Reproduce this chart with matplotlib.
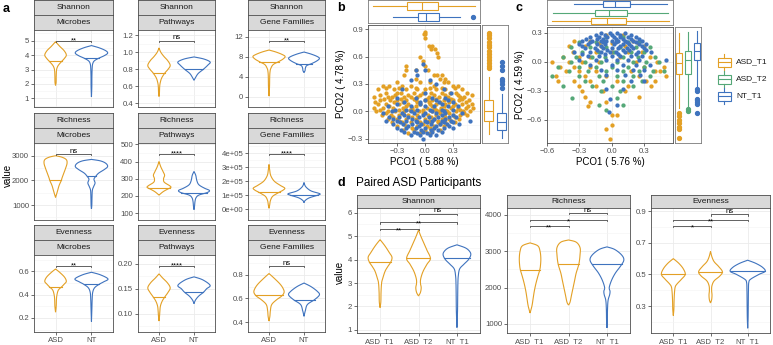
import numpy as np
import matplotlib
matplotlib.use("Agg")
import matplotlib.pyplot as plt
from matplotlib.ticker import AutoMinorLocator, FixedLocator

plt.rcParams['font.family'] = ['Liberation Sans', 'DejaVu Sans']

ORANGE, BLUE, GREEN = "#E3A025", "#3F73BE", "#55A878"
W, H = 773, 345

# ---------------- panel a : violins (y knots top->bottom, half widths) ----------------
a_metrics = ["Shannon", "Richness", "Evenness"]
a_sets = ["Microbes", "Pathways", "Gene Families"]
a_groups = ["ASD", "NT"]

a_shan_mic_asd = ([4.93, 4.6, 4.3, 4.0, 3.75, 3.56, 3.3, 3.1, 2.9, 2.5, 2.1, 1.9],
                  [0, 0.12, 0.24, 0.3, 0.24, 0.17, 0.08, 0.04, 0.025, 0.018, 0.015, 0])
a_shan_mic_nt = ([4.66, 4.5, 4.3, 4.13, 3.95, 3.78, 3.6, 3.4, 3.1, 2.5, 1.8, 1.1],
                 [0, 0.22, 0.4, 0.45, 0.35, 0.2, 0.08, 0.035, 0.02, 0.012, 0.01, 0])
a_shan_pw_asd = ([1.05, 1.0, 0.95, 0.9, 0.845, 0.8, 0.757, 0.7, 0.65, 0.6, 0.52, 0.48],
                 [0, 0.05, 0.14, 0.25, 0.32, 0.26, 0.17, 0.08, 0.04, 0.02, 0.012, 0])
a_shan_pw_nt = ([0.944, 0.92, 0.885, 0.85, 0.8, 0.75, 0.7, 0.67],
                [0, 0.28, 0.46, 0.4, 0.27, 0.12, 0.04, 0])
a_shan_gf_asd = ([9.3, 8.9, 8.4, 8.0, 7.5, 7.0, 6.4, 5.6, 5.0, 4.0, 2.0, 0.1],
                 [0, 0.2, 0.38, 0.46, 0.4, 0.28, 0.12, 0.05, 0.03, 0.02, 0.015, 0])
a_shan_gf_nt = ([8.9, 8.5, 8.0, 7.6, 7.1, 6.6, 6.2, 5.7, 5.2, 4.8],
                [0, 0.2, 0.38, 0.44, 0.36, 0.22, 0.08, 0.04, 0.03, 0])
a_rich_mic_asd = ([3010, 2950, 2850, 2700, 2500, 2300, 2100, 2000, 1800, 1600, 1450, 1310],
                  [0, 0.18, 0.3, 0.32, 0.28, 0.23, 0.18, 0.16, 0.1, 0.06, 0.03, 0])
a_rich_mic_nt = ([2860, 2800, 2700, 2570, 2450, 2300, 2170, 2050, 1900, 1750, 1600, 1300, 1000, 840],
                 [0, 0.25, 0.4, 0.45, 0.36, 0.2, 0.12, 0.07, 0.1, 0.06, 0.025, 0.015, 0.01, 0])
a_rich_pw_asd = ([400, 370, 340, 320, 300, 280, 260, 250, 240, 225, 205],
                 [0, 0.05, 0.12, 0.16, 0.13, 0.15, 0.3, 0.34, 0.25, 0.12, 0])
a_rich_pw_nt = ([342, 320, 290, 265, 245, 232, 220, 205, 190, 170, 140, 120],
                [0, 0.05, 0.08, 0.14, 0.3, 0.44, 0.38, 0.14, 0.06, 0.03, 0.015, 0])
a_rich_gf_asd = ([3.2e5, 2.8e5, 2.4e5, 2.0e5, 1.7e5, 1.5e5, 1.35e5, 1.24e5, 1.1e5, 0.9e5, 0.6e5, 0.3e5, 0.05e5],
                 [0, 0.02, 0.05, 0.15, 0.32, 0.45, 0.4, 0.32, 0.22, 0.1, 0.04, 0.02, 0])
a_rich_gf_nt = ([1.9e5, 1.6e5, 1.3e5, 1.1e5, 1.0e5, 0.8e5, 0.6e5, 0.45e5],
                [0, 0.05, 0.2, 0.45, 0.4, 0.15, 0.03, 0])
a_even_mic_asd = ([0.62, 0.59, 0.55, 0.514, 0.49, 0.467, 0.44, 0.4, 0.36, 0.3, 0.25],
                  [0, 0.12, 0.25, 0.3, 0.24, 0.17, 0.08, 0.04, 0.025, 0.018, 0])
a_even_mic_nt = ([0.592, 0.57, 0.535, 0.51, 0.49, 0.46, 0.42, 0.36, 0.28, 0.17],
                 [0, 0.25, 0.46, 0.34, 0.22, 0.09, 0.035, 0.02, 0.012, 0])
a_even_pw_asd = ([0.18, 0.172, 0.162, 0.152, 0.143, 0.134, 0.125, 0.115, 0.105, 0.095, 0.085],
                 [0, 0.1, 0.24, 0.32, 0.26, 0.17, 0.09, 0.04, 0.025, 0.015, 0])
a_even_pw_nt = ([0.174, 0.168, 0.157, 0.15, 0.143, 0.135, 0.127, 0.12],
                [0, 0.25, 0.46, 0.36, 0.27, 0.13, 0.04, 0])
a_even_gf_asd = ([0.81, 0.77, 0.72, 0.68, 0.65, 0.62, 0.59, 0.55, 0.5, 0.45, 0.41],
                 [0, 0.15, 0.32, 0.41, 0.43, 0.36, 0.22, 0.08, 0.04, 0.025, 0])
a_even_gf_nt = ([0.73, 0.7, 0.66, 0.63, 0.59, 0.55, 0.5, 0.45],
                [0, 0.2, 0.38, 0.44, 0.3, 0.1, 0.04, 0])

a_violins = [[(a_shan_mic_asd, a_shan_mic_nt), (a_shan_pw_asd, a_shan_pw_nt), (a_shan_gf_asd, a_shan_gf_nt)],
             [(a_rich_mic_asd, a_rich_mic_nt), (a_rich_pw_asd, a_rich_pw_nt), (a_rich_gf_asd, a_rich_gf_nt)],
             [(a_even_mic_asd, a_even_mic_nt), (a_even_pw_asd, a_even_pw_nt), (a_even_gf_asd, a_even_gf_nt)]]
a_medians = [[(3.56, 3.78), (0.757, 0.797), (7.0, 6.6)],
             [(2000, 2170), (245, 220), (1.24e5, 1.0e5)],
             [(0.467, 0.49), (0.134, 0.143), (0.63, 0.59)]]
a_sig_y = [[5.0, 1.13, 11.1], [3070, 442, 3.93e5], [0.648, 0.196, 0.87]]
a_sig_lab = [["**", "ns", "**"], ["ns", "****", "****"], ["**", "****", "ns"]]
a_ylim = [[(0.40, 5.74), (0.357, 1.26), (-2.07, 13.3)],
          [(388, 3530), (60, 508), (-0.79e5, 4.74e5)],
          [(0.08, 0.74), (0.063, 0.218), (0.318, 0.966)]]
a_yticks = [[[1, 2, 3, 4, 5], [0.4, 0.6, 0.8, 1.0, 1.2], [0, 4, 8, 12]],
            [[1000, 2000, 3000], [100, 200, 300, 400, 500], [0, 1e5, 2e5, 3e5, 4e5]],
            [[0.2, 0.4, 0.6], [0.10, 0.15, 0.20], [0.4, 0.6, 0.8]]]
a_ytlab = [[["1", "2", "3", "4", "5"], ["0.4", "0.6", "0.8", "1.0", "1.2"], ["0", "4", "8", "12"]],
           [["1000", "2000", "3000"], ["100", "200", "300", "400", "500"],
            ["0e+00", "1e+05", "2e+05", "3e+05", "4e+05"]],
           [["0.2", "0.4", "0.6"], ["0.10", "0.15", "0.20"], ["0.4", "0.6", "0.8"]]]

# ---------------- panel d : paired ASD violins ----------------
d_metrics = ["Shannon", "Richness", "Evenness"]
d_groups = ["ASD_T1", "ASD_T2", "NT_T1"]
d_shan = [([4.85, 4.6, 4.3, 4.1, 3.9, 3.7, 3.5, 3.2, 3.0, 2.6, 2.2, 1.95],
           [0, 0.12, 0.24, 0.31, 0.28, 0.2, 0.13, 0.07, 0.04, 0.025, 0.02, 0]),
          ([5.26, 5.0, 4.7, 4.4, 4.05, 3.8, 3.5, 3.2, 3.0, 2.8, 2.6, 2.45],
           [0, 0.06, 0.14, 0.22, 0.31, 0.22, 0.12, 0.06, 0.05, 0.07, 0.05, 0]),
          ([4.63, 4.5, 4.35, 4.2, 4.0, 3.8, 3.6, 3.3, 3.0, 2.5, 1.8, 1.1],
           [0, 0.22, 0.33, 0.36, 0.3, 0.18, 0.07, 0.035, 0.025, 0.02, 0.015, 0])]
d_rich = [([3230, 3150, 3000, 2800, 2600, 2480, 2300, 2100, 1900, 1700, 1500, 1300],
           [0, 0.2, 0.26, 0.28, 0.27, 0.25, 0.2, 0.15, 0.11, 0.08, 0.05, 0]),
          ([3310, 3250, 3100, 2900, 2650, 2400, 2200, 2000, 1800, 1600, 1520],
           [0, 0.2, 0.3, 0.3, 0.27, 0.2, 0.16, 0.12, 0.08, 0.04, 0]),
          ([3120, 3050, 2900, 2760, 2600, 2400, 2200, 2000, 1900, 1800, 1650, 1400, 1100, 890],
           [0, 0.2, 0.38, 0.44, 0.36, 0.22, 0.12, 0.06, 0.08, 0.07, 0.03, 0.015, 0.01, 0])]
d_even = [([0.6, 0.57, 0.535, 0.5, 0.47, 0.44, 0.42, 0.38, 0.33, 0.28, 0.24],
           [0, 0.15, 0.27, 0.32, 0.22, 0.1, 0.05, 0.03, 0.02, 0.015, 0]),
          ([0.645, 0.61, 0.58, 0.55, 0.517, 0.49, 0.46, 0.43, 0.4, 0.37, 0.34, 0.32],
           [0, 0.04, 0.1, 0.22, 0.32, 0.25, 0.1, 0.04, 0.03, 0.04, 0.03, 0]),
          ([0.59, 0.57, 0.545, 0.52, 0.5, 0.47, 0.45, 0.4, 0.3, 0.22, 0.16],
           [0, 0.22, 0.4, 0.47, 0.3, 0.08, 0.03, 0.02, 0.015, 0.01, 0])]
d_medians = [[3.9, 4.05, 4.08], [2480, 2650, 2650], [0.5, 0.517, 0.52]]
d_sig = [[(1, 2, 5.32, "**"), (1, 3, 5.6, "**"), (2, 3, 5.95, "ns")],
         [(1, 2, 3700, "**"), (1, 3, 3860, "*"), (2, 3, 4055, "ns")],
         [(1, 2, 0.807, "*"), (1, 3, 0.845, "**"), (2, 3, 0.88, "ns")]]
d_ylim = [(0.87, 6.2), (750, 4190), (0.13, 0.92)]
d_yticks = [[1, 2, 3, 4, 5, 6], [1000, 2000, 3000, 4000], [0.3, 0.5, 0.7, 0.9]]

# ---------------- panel b : PCoA ASD vs NT (rows: y, xs) ----------------
b_asd_rows = [(0.87, [0.0]), (0.85, [0.0, -0.01]), (0.80, [0.0]), (0.72, [0.04, 0.08]),
              (0.68, [0.07, 0.11]), (0.64, [0.13]), (0.60, [-0.05, 0.14]), (0.55, [-0.02]),
              (0.50, [-0.2, 0.0]), (0.45, [-0.2, -0.1, 0.03]), (0.40, [-0.22, 0.1, 0.13, 0.18]),
              (0.36, [-0.1, 0.16, 0.22]), (0.32, [-0.3, -0.05, 0.05, 0.2, 0.25]),
              (0.28, [-0.45, -0.38, -0.25, -0.15, 0.1, 0.3, 0.35]),
              (0.26, [-0.42, -0.28, -0.1, 0.05, 0.18, 0.32]),
              (0.24, [-0.5, -0.33, -0.2, -0.08, 0.0, 0.12, 0.22, 0.4]),
              (0.20, [-0.42, -0.3, -0.26, -0.12, -0.02, 0.06, 0.18, 0.27, 0.33, 0.45]),
              (0.18, [-0.48, -0.32, -0.18, -0.05, 0.1, 0.22, 0.35, 0.5]),
              (0.16, [-0.55, -0.4, -0.35, -0.22, -0.15, -0.08, 0.04, 0.15, 0.25, 0.38, 0.42]),
              (0.14, [-0.44, -0.26, -0.12, 0.02, 0.12, 0.28, 0.4]),
              (0.12, [-0.48, -0.37, -0.3, -0.2, -0.1, 0.0, 0.08, 0.2, 0.3, 0.36, 0.47]),
              (0.10, [-0.53, -0.33, -0.24, -0.08, 0.04, 0.16, 0.26, 0.44]),
              (0.08, [-0.5, -0.42, -0.28, -0.18, -0.05, 0.05, 0.12, 0.22, 0.32, 0.4, 0.5]),
              (0.06, [-0.38, -0.2, -0.1, 0.08, 0.2, 0.3, 0.46]),
              (0.04, [-0.55, -0.45, -0.34, -0.24, -0.14, 0.02, 0.1, 0.17, 0.28, 0.35, 0.44, 0.52]),
              (0.02, [-0.48, -0.28, -0.16, -0.02, 0.12, 0.22, 0.38]),
              (0.00, [-0.52, -0.4, -0.32, -0.22, -0.12, -0.06, 0.08, 0.15, 0.24, 0.33, 0.41, 0.48]),
              (-0.02, [-0.42, -0.24, -0.02, 0.16, 0.26, 0.42]),
              (-0.04, [-0.46, -0.36, -0.28, -0.18, -0.08, 0.03, 0.12, 0.2, 0.3, 0.38, 0.45]),
              (-0.06, [-0.34, -0.14, 0.06, 0.22, 0.32]),
              (-0.08, [-0.4, -0.3, -0.2, -0.1, 0.0, 0.1, 0.18, 0.26, 0.36]),
              (-0.10, [-0.28, -0.08, 0.04, 0.14, 0.28]),
              (-0.12, [-0.35, -0.25, -0.15, -0.05, 0.06, 0.14, 0.22, 0.32]),
              (-0.14, [-0.22, -0.02, 0.16]),
              (-0.16, [-0.3, -0.2, -0.08, 0.02, 0.1, 0.2]), (-0.18, [-0.14, 0.05]),
              (-0.20, [-0.24, -0.12, 0.0, 0.08, 0.16]), (-0.24, [-0.18, -0.05, 0.05])]
b_nt_rows = [(0.52, [-0.02]), (0.45, [-0.1, 0.0]), (0.40, [-0.08]), (0.34, [-0.15, 0.05]),
             (0.30, [0.12]), (0.24, [-0.25, 0.2]), (0.20, [0.0, 0.28]),
             (0.15, [-0.3, -0.1, 0.08, 0.22]), (0.12, [0.0, 0.12, 0.25]),
             (0.10, [-0.22, -0.05, 0.15, 0.3]), (0.08, [-0.3, -0.05, 0.18]),
             (0.06, [-0.4, -0.15, 0.0, 0.1, 0.25, 0.35]), (0.02, [-0.32, -0.2, -0.08, 0.05, 0.18, 0.3]),
             (0.00, [-0.35, -0.15, 0.08, 0.2]),
             (-0.02, [-0.45, -0.25, -0.12, 0.0, 0.12, 0.22, 0.4]),
             (-0.04, [-0.22, -0.02, 0.18, 0.3]),
             (-0.06, [-0.38, -0.28, -0.18, -0.06, 0.04, 0.14, 0.26, 0.33]),
             (-0.08, [-0.34, -0.14, 0.1, 0.22]),
             (-0.10, [-0.42, -0.3, -0.2, -0.1, 0.0, 0.08, 0.18, 0.28, 0.48]),
             (-0.12, [-0.27, -0.08, 0.02, 0.2, 0.3]),
             (-0.14, [-0.34, -0.24, -0.14, -0.04, 0.06, 0.16, 0.24, 0.36]),
             (-0.16, [-0.18, -0.06, 0.12, 0.26]),
             (-0.18, [-0.3, -0.2, -0.1, 0.0, 0.1, 0.2, 0.3]),
             (-0.20, [-0.26, -0.04, 0.06, 0.14]),
             (-0.22, [-0.22, -0.12, -0.02, 0.08, 0.18]), (-0.24, [-0.08, 0.02]),
             (-0.26, [-0.15, -0.05, 0.05, 0.12]), (-0.30, [-0.02])]
# marginal box stats: (whislo, q1, med, q3, whishi, fliers)
b_top_asd = (-0.557, -0.193, -0.032, 0.139, 0.536, [])
b_top_nt = (-0.343, -0.075, 0.011, 0.150, 0.375, [0.514])
b_right_asd = (-0.25, -0.10, 0.009, 0.129, 0.38,
               [0.47, 0.5, 0.53, 0.56, 0.6, 0.63, 0.66, 0.7, 0.73, 0.76, 0.8, 0.83, 0.86])
b_right_nt = (-0.286, -0.198, -0.12, -0.013, 0.194, [0.26, 0.3, 0.33, 0.36, 0.45, 0.5, 0.54])

# ---------------- panel c : PCoA ASD_T1 / ASD_T2 / NT_T1 ----------------
c_t1_rows = [(0.28, [-0.05, 0.1]), (0.22, [-0.35, -0.2, 0.05, 0.2]), (0.19, [-0.12, 0.0, 0.24]),
             (0.16, [-0.4, -0.25, -0.1, 0.12, 0.3]),
             (0.10, [-0.36, -0.15, 0.0, 0.15, 0.28]), (0.05, [-0.45, -0.3, -0.2, 0.08, 0.35]),
             (0.00, [-0.55, -0.4, -0.28, -0.12, 0.22, 0.42]), (-0.05, [-0.48, -0.35, -0.2, 0.3, 0.48]),
             (-0.10, [-0.42, -0.3, -0.15, 0.18, 0.4, 0.45]), (-0.15, [-0.52, -0.25, -0.05, 0.25, 0.5]),
             (-0.20, [-0.5, -0.35, -0.2, 0.05, 0.32, 0.4]), (-0.25, [-0.3, -0.15, 0.15, 0.36]),
             (-0.30, [-0.28, -0.08, 0.12]), (-0.36, [-0.25, 0.25]), (-0.42, [-0.2, -0.05]),
             (-0.46, [-0.22]), (-0.55, [0.0, 0.05]), (-0.65, [0.0]), (-0.70, [-0.05]), (-0.80, [-0.02])]
c_t2_rows = [(0.26, [-0.05, 0.1]), (0.20, [-0.3, -0.15, 0.15, 0.25]),
             (0.15, [-0.38, -0.2, -0.05, 0.08, 0.22, 0.35]), (0.10, [-0.28, -0.12, 0.02, 0.18, 0.3]),
             (0.05, [-0.45, -0.33, -0.18, -0.06, 0.1, 0.24, 0.4]),
             (0.00, [-0.38, -0.25, -0.1, 0.05, 0.2, 0.32, 0.44]),
             (-0.05, [-0.5, -0.3, -0.15, 0.0, 0.15, 0.3]),
             (-0.10, [-0.4, -0.22, -0.05, 0.1, 0.25, 0.38, 0.48]),
             (-0.15, [-0.55, -0.3, -0.12, 0.05, 0.2, 0.35]), (-0.20, [-0.25, -0.08, 0.1, 0.28]),
             (-0.25, [-0.45, -0.18, 0.0, 0.2]), (-0.30, [-0.1, 0.08]), (-0.37, [-0.37, 0.05]),
             (-0.45, [-0.12, 0.1]), (-0.50, [-0.05])]
c_nt_rows = [(0.30, [-0.1, -0.02, 0.05, 0.12]), (0.28, [-0.15, -0.06, 0.0, 0.08, 0.18]),
             (0.26, [-0.2, -0.12, -0.04, 0.02, 0.08, 0.15, 0.22]),
             (0.24, [-0.24, -0.14, -0.08, 0.04, 0.1, 0.18, 0.25]),
             (0.22, [-0.28, -0.18, -0.1, -0.05, 0.0, 0.06, 0.12, 0.2, 0.28]),
             (0.20, [-0.2, -0.08, 0.04, 0.14, 0.22]),
             (0.18, [-0.3, -0.22, -0.14, -0.06, 0.02, 0.1, 0.16, 0.25, 0.32]),
             (0.16, [-0.28, -0.1, 0.08, 0.18, 0.28]),
             (0.14, [-0.25, -0.16, -0.08, 0.0, 0.06, 0.14, 0.2, 0.3]),
             (0.12, [-0.14, -0.04, 0.1, 0.16, 0.32]),
             (0.10, [-0.35, -0.2, -0.1, -0.02, 0.04, 0.12, 0.24, 0.36]),
             (0.08, [-0.28, -0.06, 0.06, 0.22]),
             (0.06, [-0.22, -0.12, 0.0, 0.08, 0.18, 0.28]),
             (0.02, [-0.3, -0.15, -0.05, 0.05, 0.15, 0.25, 0.5]),
             (-0.03, [-0.2, 0.0, 0.1, 0.22, 0.35]), (-0.08, [-0.1, 0.05, 0.2, 0.3]),
             (-0.14, [-0.05, 0.12, 0.26]), (-0.20, [0.18, 0.3]), (-0.28, [-0.05, 0.1]),
             (-0.38, [-0.02]), (-0.45, [0.05]), (-0.52, [-0.03])]
c_top = [(-0.557, -0.195, -0.046, 0.130, 0.529, []),
         (-0.548, -0.158, -0.028, 0.139, 0.52, []),
         (-0.353, -0.084, 0.028, 0.167, 0.511, [])]
c_right = [(-0.48, -0.128, -0.017, 0.087, 0.297, [-0.53, -0.56, -0.6, -0.63, -0.67, -0.7, -0.79]),
           (-0.47, -0.128, 0.017, 0.113, 0.31, [-0.49, -0.51]),
           (-0.262, 0.017, 0.114, 0.191, 0.317, [-0.28, -0.3, -0.38, -0.4, -0.42, -0.44, -0.53])]
c_groups = ["ASD_T1", "ASD_T2", "NT_T1"]

fig = plt.figure(figsize=(W / 100, H / 100), dpi=100)


def px_axes(x0, y0, x1, y1):
    return fig.add_axes([x0 / W, 1 - y1 / H, (x1 - x0) / W, (y1 - y0) / H])


def style(ax, minor=True):
    for s in ax.spines.values():
        s.set_color("#4d4d4d"); s.set_linewidth(0.6)
    ax.grid(True, which="major", color="#EBEBEB", lw=0.6)
    if minor:
        ax.yaxis.set_minor_locator(AutoMinorLocator(2))
        ax.grid(True, which="minor", axis="y", color="#F4F4F4", lw=0.4)
    ax.set_axisbelow(True)
    ax.tick_params(length=2, width=0.5, color="#333333", labelsize=5.6, labelcolor="#4D4D4D", pad=1.5)
    ax.tick_params(which="minor", length=0)


def strip(x0, y0, x1, y1, text):
    s = px_axes(x0, y0, x1, y1)
    s.set_facecolor("#D9D9D9")
    s.set_xticks([]); s.set_yticks([])
    for sp in s.spines.values():
        sp.set_color("#4d4d4d"); sp.set_linewidth(0.6)
    s.text(0.5, 0.5, text, ha="center", va="center", fontsize=6, color="#1A1A1A")


def smooth(ys, ws, n=8):
    P = np.column_stack([ws, ys]).astype(float)
    P = np.vstack([P[0], P, P[-1]])
    out = []
    for i in range(1, len(P) - 2):
        p0, p1, p2, p3 = P[i - 1], P[i], P[i + 1], P[i + 2]
        for t in np.linspace(0, 1, n, endpoint=False):
            out.append(0.5 * (2 * p1 + (-p0 + p2) * t + (2 * p0 - 5 * p1 + 4 * p2 - p3) * t * t
                              + (-p0 + 3 * p1 - 3 * p2 + p3) * t ** 3))
    out.append(P[-2])
    out = np.array(out)
    out[:, 0] = np.clip(out[:, 0], 0, None)
    return out[:, 1], out[:, 0]


def violin(ax, pos, shape, med, color):
    ys, ws = smooth(*shape)
    ax.fill(np.concatenate([pos - ws, (pos + ws)[::-1]]), np.concatenate([ys, ys[::-1]]),
            facecolor="white", edgecolor=color, lw=0.8, zorder=3)
    wm = np.interp(med, ys[::-1], ws[::-1])
    ax.plot([pos - wm, pos + wm], [med, med], color=color, lw=0.8, zorder=4)


def bracket(ax, x1, x2, y, lab, rng):
    tip = rng * 0.012
    ax.plot([x1, x1, x2, x2], [y - tip, y, y, y - tip], color="#222222", lw=0.5, zorder=5)
    if lab == "ns":
        ax.text((x1 + x2) / 2, y - rng * 0.005, lab, ha="center", va="bottom", fontsize=5.5, zorder=6)
    else:
        ax.text((x1 + x2) / 2, y - rng * 0.045, lab, ha="center", va="bottom", fontsize=5.5, zorder=6)


# ---------------- draw panel a ----------------
a_cols = [(34, 113), (138, 215), (248, 325)]
a_rows = [0, 113, 225]
for r in range(3):
    top = a_rows[r]
    for c in range(3):
        x0, x1 = a_cols[c]
        strip(x0, top, x1, top + 15, a_metrics[r])
        strip(x0, top + 15, x1, top + 30, a_sets[c])
        ax = px_axes(x0, top + 30, x1, top + 107)
        style(ax)
        for g, col in enumerate([ORANGE, BLUE]):
            violin(ax, g + 1, a_violins[r][c][g], a_medians[r][c][g], col)
        lo, hi = a_ylim[r][c]
        ax.set_ylim(lo, hi)
        ax.set_xlim(0.4, 2.6)
        ax.yaxis.set_major_locator(FixedLocator(a_yticks[r][c]))
        ax.set_yticklabels(a_ytlab[r][c])
        ax.set_xticks([1, 2])
        if r == 2:
            ax.set_xticklabels(a_groups)
        else:
            ax.set_xticklabels([])
            ax.tick_params(axis="x", length=0)
        bracket(ax, 1, 2, a_sig_y[r][c], a_sig_lab[r][c], hi - lo)
fig.text(3 / W, 1 - 9 / H, "a", fontsize=9, fontweight="bold", va="center")
fig.text(8 / W, 1 - 175 / H, "value", fontsize=7, rotation=90, ha="center", va="center")

# ---------------- draw panel d ----------------
d_cols = [(357, 480), (507, 630), (651, 770)]
d_shapes = [d_shan, d_rich, d_even]
d_colors = [ORANGE, ORANGE, BLUE]
for k in range(3):
    x0, x1 = d_cols[k]
    strip(x0, 195, x1, 208, d_metrics[k])
    ax = px_axes(x0, 208, x1, 333)
    style(ax)
    for g in range(3):
        violin(ax, g + 1, d_shapes[k][g], d_medians[k][g], d_colors[g])
    lo, hi = d_ylim[k]
    ax.set_ylim(lo, hi); ax.set_xlim(0.4, 3.6)
    ax.yaxis.set_major_locator(FixedLocator(d_yticks[k]))
    ax.set_xticks([1, 2, 3]); ax.set_xticklabels(d_groups)
    for (g1, g2, y, lab) in d_sig[k]:
        bracket(ax, g1, g2, y, lab, hi - lo)
fig.text(337 / W, 1 - 183 / H, "d", fontsize=9, fontweight="bold", va="center")
fig.text(356 / W, 1 - 183 / H, "Paired ASD Participants", fontsize=8.5, va="center")
fig.text(340 / W, 1 - 272 / H, "value", fontsize=7, rotation=90, ha="center", va="center")


# ---------------- scatter helpers ----------------
def rows_to_xy(rows):
    xs = [x for y, row in rows for x in row]
    ys = [y for y, row in rows for x in row]
    return np.array(xs), np.array(ys)


def to_stats(t):
    return dict(whislo=t[0], q1=t[1], med=t[2], q3=t[3], whishi=t[4], fliers=np.array(t[5]))


def marg_box(ax, stats_list, colors, orientation):
    for i, (st, col) in enumerate(zip(stats_list, colors)):
        ax.bxp([to_stats(st)], positions=[i + 1], widths=0.72, orientation=orientation,
               patch_artist=True, showcaps=False,
               boxprops=dict(facecolor="white", edgecolor=col, lw=0.8),
               medianprops=dict(color=col, lw=0.8),
               whiskerprops=dict(color=col, lw=0.8),
               flierprops=dict(marker="o", markerfacecolor=col, markeredgecolor=col, markersize=2.8))
    ax.set_xticks([]); ax.set_yticks([])


def pm(v):
    return f"{v:.1f}".replace("-", "\u2212")


def scatter_panel(xm0, ym0, xm1, ym1, xr1, groups_rows, colors, xlim, ylim, xt, yt,
                  top_stats, top_colors, right_stats, xlab, ylab):
    ax = px_axes(xm0, ym0, xm1, ym1)
    style(ax)
    ax.xaxis.set_minor_locator(AutoMinorLocator(2))
    ax.grid(True, which="minor", axis="x", color="#F4F4F4", lw=0.4)
    for rows, col in zip(groups_rows, colors):
        x, y = rows_to_xy(rows)
        ax.scatter(x, y, s=9.5, color=col, linewidths=0, zorder=3)
    ax.set_xlim(*xlim); ax.set_ylim(*ylim)
    ax.set_xticks(xt); ax.set_xticklabels([pm(v) for v in xt])
    ax.set_yticks(yt); ax.set_yticklabels([pm(v) for v in yt])
    ax.set_xlabel(xlab, fontsize=7, labelpad=1.5)
    ax.set_ylabel(ylab, fontsize=7, labelpad=1.5)
    n = len(top_stats)
    at = px_axes(xm0, 0, xm1, ym0 - 2)
    style(at, minor=False)
    marg_box(at, top_stats, top_colors, "horizontal")
    at.set_xlim(*xlim); at.set_ylim(0.5, n + 0.5)
    ar = px_axes(xm1 + 2, ym0, xr1, ym1)
    style(ar, minor=False)
    marg_box(ar, right_stats, colors, "vertical")
    ar.set_ylim(*ylim); ar.set_xlim(0.5, n + 0.5)
    for a in (at, ar):
        for s in a.spines.values():
            s.set_color("#7a7a7a")
    return ax


# panel b (top marginal: NT bottom, ASD top)
scatter_panel(368, 25, 480, 143, 508, [b_asd_rows, b_nt_rows], [ORANGE, BLUE],
              (-0.61, 0.59), (-0.344, 0.944), [-0.3, 0.0, 0.3], [-0.3, 0.0, 0.3, 0.6, 0.9],
              [b_top_nt, b_top_asd], [BLUE, ORANGE], [b_right_asd, b_right_nt],
              "PCO1 ( 5.88 %)", "PCO2 ( 4.78 %)")
fig.text(337 / W, 1 - 8 / H, "b", fontsize=9, fontweight="bold", va="center")

# panel c
scatter_panel(547, 27, 673, 143, 701, [c_t1_rows, c_t2_rows, c_nt_rows], [ORANGE, GREEN, BLUE],
              (-0.6, 0.567), (-0.84, 0.36), [-0.6, -0.3, 0.0, 0.3], [-0.6, -0.3, 0.0, 0.3],
              c_top, [ORANGE, GREEN, BLUE], c_right, "PCO1 ( 5.76 %)", "PCO2 ( 4.59 %)")
fig.text(516 / W, 1 - 8 / H, "c", fontsize=9, fontweight="bold", va="center")

# legend for c
lg = px_axes(706, 50, 773, 108)
lg.set_xlim(706, 773); lg.set_ylim(108, 50); lg.axis("off")
for name, col, yc in zip(c_groups, [ORANGE, GREEN, BLUE], [62, 79, 96]):
    lg.add_patch(plt.Rectangle((717.5, yc - 4.5), 13, 9, facecolor="white", edgecolor=col, lw=0.8))
    lg.plot([717.5, 730.5], [yc, yc], color=col, lw=0.8)
    lg.plot([724, 724], [yc - 8, yc - 4.5], color=col, lw=0.8)
    lg.plot([724, 724], [yc + 4.5, yc + 8], color=col, lw=0.8)
    lg.text(736, yc, name, fontsize=6, va="center", color="#1A1A1A")

fig.savefig("out.png", dpi=100)
